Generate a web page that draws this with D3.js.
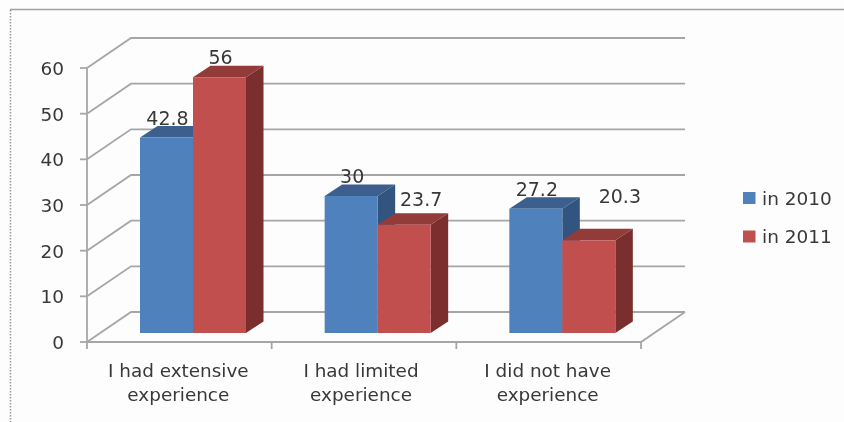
<!DOCTYPE html>
<html><head><meta charset="utf-8">
<script src="https://cdn.jsdelivr.net/npm/d3@7/dist/d3.min.js"></script>
<style>html,body{margin:0;padding:0;background:#fff}svg{display:block}text{font-family:"DejaVu Sans",sans-serif;fill:#383838}</style>
</head><body><div id="chart"></div>
<script>
const categories = [["I had extensive","experience"],["I had limited","experience"],["I did not have","experience"]];
const seriesNames = ["in 2010","in 2011"];
const values2010 = [42.8,30,27.2];
const values2011 = [56,23.7,20.3];
const yTicks = [0,10,20,30,40,50,60];

const W=844,H=422;
const svg=d3.select("#chart").append("svg").attr("width",W).attr("height",H);
const defs=svg.append("defs");
defs.append("filter").attr("id","soft").append("feGaussianBlur").attr("stdDeviation",0.45);
const root=svg.append("g").attr("filter","url(#soft)");
root.append("rect").attr("width",W).attr("height",H).attr("fill","#fdfdfd");

const y=d3.scaleLinear().domain([0,60]).range([342,68]);
const x0=d3.scaleBand().domain(d3.range(3)).range([87,641]);
const x1=d3.scaleBand().domain([0,1]).range([53,159]);
const wall={dx:44,dy:-30}, bar={dx:17.5,dy:-11.5}, lift=9;
const grid="#a6a6a6";

// frame
root.append("path").attr("d",`M10,9.5H850`).attr("fill","none").attr("stroke","#a0a0a0").attr("stroke-width",1.5);
root.append("path").attr("d",`M10.5,10V430`).attr("fill","none").attr("stroke","#999").attr("stroke-width",1.5).attr("stroke-dasharray","1.5 1.5");

// walls
const lines=root.append("g").attr("fill","none").attr("stroke",grid).attr("stroke-width",1.8);
yTicks.forEach(t=>{
  lines.append("path").attr("d",`M${x0.range()[0]},${y(t)}l${wall.dx},${wall.dy}H${x0.range()[1]+wall.dx}`);
  lines.append("path").attr("d",`M80,${y(t)}H87`);
});
lines.append("path").attr("d",`M87,${y(60)}V349`);
lines.append("path").attr("d",`M87,342H641l${wall.dx},${wall.dy}`);
[1,2,3].forEach(i=>{const px=87+i*x0.bandwidth();lines.append("path").attr("d",`M${px},342V349`)});

root.append("g").selectAll("text").data(yTicks).join("text")
  .attr("x",64).attr("y",d=>y(d)+7).attr("text-anchor","end").attr("font-size",18.5).text(d=>d);

// bars
const colors=[{f:"#4f81bd",t:"#3c5f8e",s:"#33547f"},{f:"#c0504d",t:"#933b39",s:"#7a2f2d"}];
const series=[values2010,values2011];
const barsG=root.append("g");
[0,1].forEach(s=>{
  series[s].forEach((v,i)=>{
    const xl=x0(i)+x1(s), w=x1.bandwidth(), yb=y(0)-lift, yt=y(v)-lift, c=colors[s];
    const g=barsG.append("g");
    g.append("path").attr("d",`M${xl+w},${yt}l${bar.dx},${bar.dy}V${yb+bar.dy}L${xl+w},${yb}Z`).attr("fill",c.s);
    g.append("path").attr("d",`M${xl},${yt}l${bar.dx},${bar.dy}h${w}L${xl+w},${yt}Z`).attr("fill",c.t);
    g.append("rect").attr("x",xl).attr("y",yt).attr("width",w).attr("height",yb-yt).attr("fill",c.f);
  });
});

// data labels
const labelShift=[[[1,0],[1,0],[1,0]],[[1,0],[17,-6],[31,-24]]];
[0,1].forEach(s=>series[s].forEach((v,i)=>{
  const xl=x0(i)+x1(s)+x1.bandwidth()/2, yt=y(v)-lift;
  root.append("text").attr("x",xl+labelShift[s][i][0]).attr("y",yt-13+labelShift[s][i][1])
    .attr("text-anchor","middle").attr("font-size",19).text(v);
}));

// category labels
const catShift=[-1,-3,-1];
const catG=root.append("g");
categories.forEach((lns,i)=>lns.forEach((t,j)=>{
  catG.append("text").attr("x",x0(i)+x0.bandwidth()/2+catShift[i]).attr("y",377+j*24)
    .attr("text-anchor","middle").attr("font-size",18.4).text(t);
}));

// legend
const lg=root.append("g");
seriesNames.forEach((n,i)=>{
  lg.append("rect").attr("x",743).attr("y",192+i*38.5).attr("width",12.5).attr("height",12).attr("fill",colors[i].f);
  lg.append("text").attr("x",762).attr("y",204.5+i*38.5).attr("font-size",18.5).text(n);
});
</script></body></html>
